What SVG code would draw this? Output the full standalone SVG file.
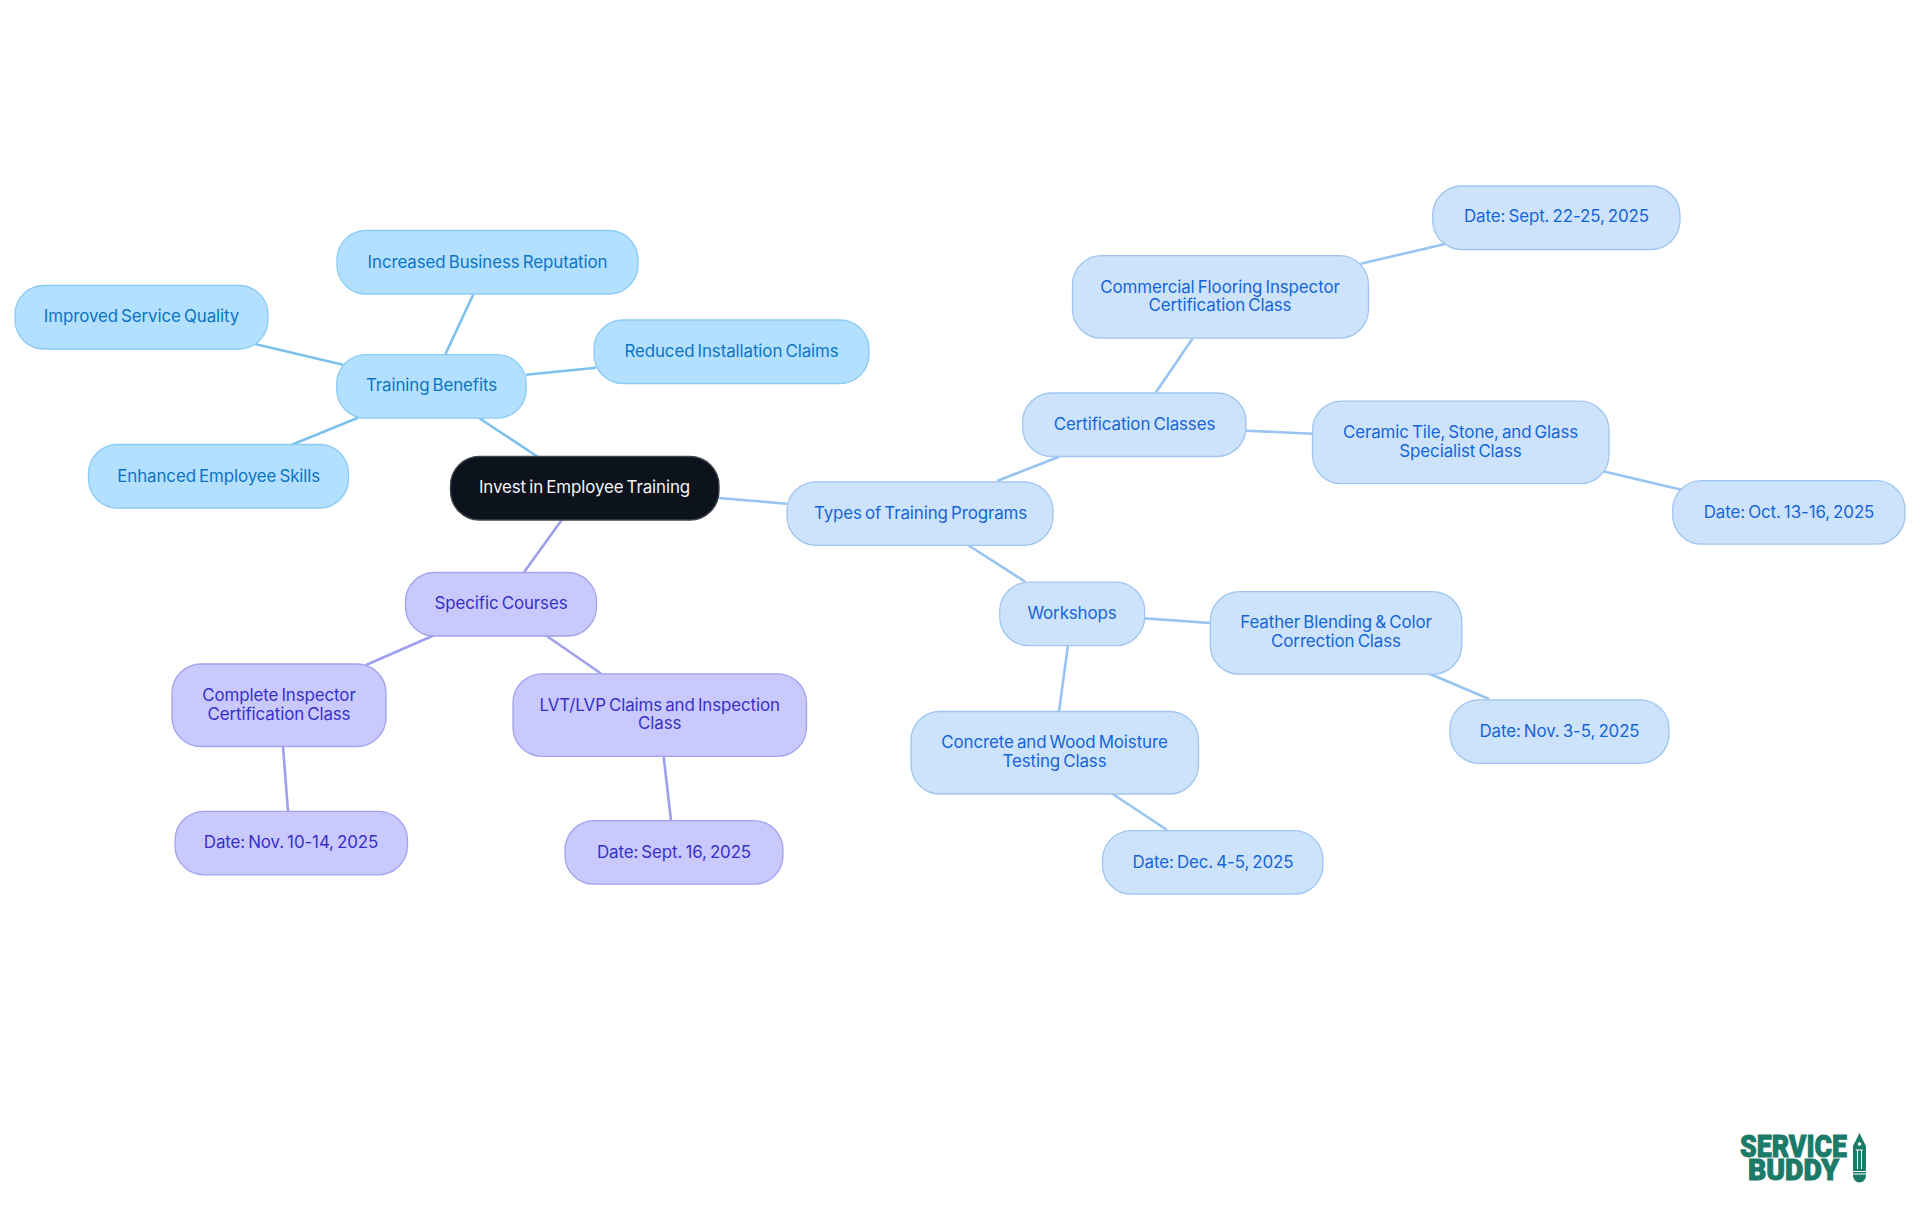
<svg xmlns="http://www.w3.org/2000/svg" width="1920" height="1215" viewBox="0 0 1920 1215">
<style>
text{font-family:"Inter","Noto Sans",sans-serif;font-size:16.9px;text-anchor:middle;word-spacing:-1.5px;letter-spacing:-.1px}
.a rect{fill:#b3e0ff;stroke:#8ccbf5;stroke-width:1.3}.a text{fill:#0b74c4}
.b rect{fill:#cde3fc;stroke:#9fc6f1;stroke-width:1.3}.b text{fill:#1565d8}
.c rect{fill:#c9c9fe;stroke:#a3a3ef;stroke-width:1.3}.c text{fill:#3730c8}
.r rect{fill:#0c131c;stroke:#3d434b;stroke-width:1.3}.r text{fill:#f4f5f6}
.la{stroke:#7cc1ee}.lb{stroke:#98c4f2}.lc{stroke:#9f9ff0}
#connectors line{stroke-width:2.6;fill:none}
.logo{font-family:"Roboto",sans-serif;font-weight:900;fill:#1c7a68;stroke:#1c7a68;stroke-width:1;word-spacing:0;letter-spacing:0}
</style>
<rect width="1920" height="1215" fill="#fff"/>
<g id="connectors">
<line class="la" x1="479" y1="418" x2="538" y2="457"/>
<line class="lb" x1="719" y1="498" x2="787" y2="503.7"/>
<line class="lc" x1="561.7" y1="520" x2="524" y2="572.3"/>
<line class="la" x1="445.5" y1="354" x2="473.5" y2="294"/>
<line class="la" x1="343" y1="364.7" x2="255" y2="344"/>
<line class="la" x1="526" y1="374.7" x2="596" y2="367.7"/>
<line class="la" x1="358" y1="417.7" x2="292.5" y2="444.5"/>
<line class="lc" x1="433.5" y1="635.5" x2="366" y2="665"/>
<line class="lc" x1="546" y1="635.5" x2="601" y2="673.5"/>
<line class="lc" x1="283" y1="747" x2="288" y2="811"/>
<line class="lc" x1="663.7" y1="757" x2="671" y2="820.4"/>
<line class="lb" x1="997" y1="481" x2="1059" y2="456.7"/>
<line class="lb" x1="1156" y1="392.3" x2="1192.7" y2="338.3"/>
<line class="lb" x1="1360.7" y1="263.7" x2="1445" y2="244"/>
<line class="lb" x1="1246" y1="430.7" x2="1312.3" y2="433.7"/>
<line class="lb" x1="1600" y1="470.6" x2="1682.5" y2="490"/>
<line class="lb" x1="968" y1="545" x2="1025" y2="581.6"/>
<line class="lb" x1="1145" y1="618.4" x2="1210" y2="623"/>
<line class="lb" x1="1068" y1="645" x2="1059" y2="711.4"/>
<line class="lb" x1="1423" y1="671" x2="1489" y2="699"/>
<line class="lb" x1="1112" y1="793.5" x2="1167" y2="830"/>
</g>
<g id="root" class="r"><rect x="450.5" y="456.5" width="268.5" height="63.5" rx="29"/><text x="584.5" y="493.3">Invest in Employee Training</text></g>
<g id="training-benefits" class="a"><rect x="336.7" y="354.7" width="189.5" height="63.5" rx="29"/><text x="431.5" y="391.3">Training Benefits</text></g>
<g id="increased" class="a"><rect x="337" y="230.5" width="301" height="63.5" rx="29"/><text x="487.5" y="268.3">Increased Business Reputation</text></g>
<g id="improved" class="a"><rect x="15" y="285.5" width="253" height="63.5" rx="29"/><text x="141.5" y="322">Improved Service Quality</text></g>
<g id="reduced" class="a"><rect x="594" y="320" width="275" height="63.5" rx="29"/><text x="731.5" y="356.8">Reduced Installation Claims</text></g>
<g id="enhanced" class="a"><rect x="88.5" y="444.5" width="260" height="63.5" rx="29"/><text x="218.7" y="482.3">Enhanced Employee Skills</text></g>
<g id="specific-courses" class="c"><rect x="405.5" y="572.5" width="191" height="63.5" rx="29"/><text x="501" y="609.3">Specific Courses</text></g>
<g id="complete" class="c"><rect x="172" y="664" width="214" height="82.5" rx="29"/><text x="279" y="700.9">Complete Inspector</text><text x="279" y="719.6">Certification Class</text></g>
<g id="lvt" class="c"><rect x="513" y="673.8" width="293.5" height="82.5" rx="29"/><text x="659.7" y="711">LVT/LVP Claims and Inspection</text><text x="659.7" y="729.4">Class</text></g>
<g id="date-nov-10" class="c"><rect x="175" y="811.3" width="232.5" height="63.5" rx="29"/><text x="291" y="847.8">Date: Nov. 10-14, 2025</text></g>
<g id="date-sept-16" class="c"><rect x="565" y="820.7" width="218" height="63.5" rx="29"/><text x="674" y="858.2">Date: Sept. 16, 2025</text></g>
<g id="types" class="b"><rect x="787" y="481.8" width="266" height="63.5" rx="29"/><text x="920.5" y="519.2">Types of Training Programs</text></g>
<g id="cert-classes" class="b"><rect x="1022.7" y="393" width="223.3" height="63.5" rx="29"/><text x="1134.5" y="429.8">Certification Classes</text></g>
<g id="commercial" class="b"><rect x="1072.5" y="255.7" width="296" height="82.5" rx="29"/><text x="1220" y="293.3">Commercial Flooring Inspector</text><text x="1220" y="311.4">Certification Class</text></g>
<g id="ceramic" class="b"><rect x="1312.5" y="401.2" width="296.5" height="82.5" rx="29"/><text x="1460.5" y="437.9">Ceramic Tile, Stone, and Glass</text><text x="1460.5" y="456.5">Specialist Class</text></g>
<g id="date-sept-22" class="b"><rect x="1432.7" y="186" width="247.3" height="63.5" rx="29"/><text x="1556.5" y="222.2">Date: Sept. 22-25, 2025</text></g>
<g id="date-oct" class="b"><rect x="1672.7" y="480.7" width="232.3" height="63.5" rx="29"/><text x="1789" y="518.2">Date: Oct. 13-16, 2025</text></g>
<g id="workshops" class="b"><rect x="999.7" y="582.2" width="145" height="63.5" rx="29"/><text x="1072" y="618.8">Workshops</text></g>
<g id="feather" class="b"><rect x="1210.3" y="591.7" width="251.5" height="82.5" rx="29"/><text x="1336" y="628.4">Feather Blending &amp; Color</text><text x="1336" y="646.7">Correction Class</text></g>
<g id="concrete" class="b"><rect x="911" y="711.5" width="287.5" height="82.5" rx="29"/><text x="1054.5" y="748.2">Concrete and Wood Moisture</text><text x="1054.5" y="766.5">Testing Class</text></g>
<g id="date-nov-3" class="b"><rect x="1450" y="699.8" width="219" height="63.5" rx="29"/><text x="1559.5" y="737.2">Date: Nov. 3-5, 2025</text></g>
<g id="date-dec" class="b"><rect x="1102.5" y="830.7" width="220.5" height="63.5" rx="29"/><text x="1213" y="868.2">Date: Dec. 4-5, 2025</text></g>
<g id="logo">
<text class="logo"><tspan x="1793.5" y="1157" style="font-size:32px" textLength="107" lengthAdjust="spacingAndGlyphs">SERVICE</tspan><tspan x="1793.5" y="1180" style="font-size:29px" textLength="91" lengthAdjust="spacingAndGlyphs">BUDDY</tspan></text>
<path d="M1859.5 1133 L1866 1146 V1176 a6.5 6.5 0 0 1 -13 0 V1146 Z" fill="#1c7a68"/>
<circle cx="1859.5" cy="1144" r="1.8" fill="#fff"/>
<path d="M1856 1150h7M1857.5 1150V1169M1861.5 1150V1169M1853 1171.5h13M1853 1174h13" stroke="#fff" stroke-width="1" fill="none"/>
</g>
</svg>
